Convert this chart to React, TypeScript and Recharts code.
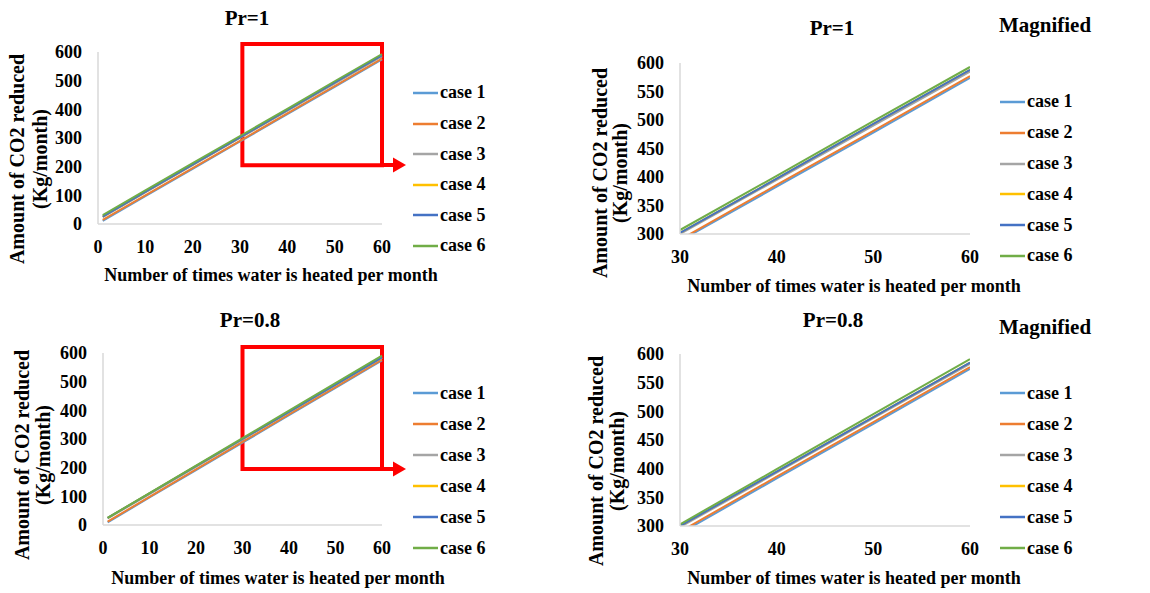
import React from 'react';
import { LineChart, Line, XAxis, YAxis, Legend, ReferenceArea } from 'recharts';

const xValues = [1, 10, 20, 30, 40, 50, 60];
const caseNames = ['case 1', 'case 2', 'case 3', 'case 4', 'case 5', 'case 6'];
const caseColors = ['#5B9BD5', '#ED7D31', '#A5A5A5', '#FFC000', '#4472C4', '#70AD47'];

// Pr = 1
const pr1Case1 = [11, 97, 192, 288, 383, 478, 574];
const pr1Case2 = [14, 100, 195, 290, 386, 481, 577];
const pr1Case3 = [24, 110, 205, 300, 395, 490, 585];
const pr1Case4 = [26, 112, 207, 302, 397, 493, 588];
const pr1Case5 = [26, 112, 207, 302, 397, 493, 588];
const pr1Case6 = [31, 117, 212, 307, 402, 498, 593];

// Pr = 0.8
const pr08Case1 = [9, 96, 191, 287, 383, 478, 574];
const pr08Case2 = [12, 98, 194, 290, 386, 481, 577];
const pr08Case3 = [23, 108, 203, 298, 393, 488, 583];
const pr08Case4 = [25, 110, 205, 300, 395, 490, 585];
const pr08Case5 = [25, 110, 205, 300, 395, 490, 585];
const pr08Case6 = [25, 111, 207, 303, 399, 495, 591];

const fullTicksX = [0, 10, 20, 30, 40, 50, 60];
const fullTicksY = [0, 100, 200, 300, 400, 500, 600];
const zoomTicksX = [30, 40, 50, 60];
const zoomTicksY = [300, 350, 400, 450, 500, 550, 600];

const xTitle = 'Number of times water is heated per month';
const yTitle1 = 'Amount of CO2 reduced';
const yTitle2 = '(Kg/month)';

const buildRows = (series: number[][]) =>
  xValues.map((x, i) => {
    const row: Record<string, number> = { x };
    series.forEach((s, k) => {
      row['c' + (k + 1)] = s[i];
    });
    return row;
  });

const pr1Rows = buildRows([pr1Case1, pr1Case2, pr1Case3, pr1Case4, pr1Case5, pr1Case6]);
const pr08Rows = buildRows([pr08Case1, pr08Case2, pr08Case3, pr08Case4, pr08Case5, pr08Case6]);

const FONT = '"Liberation Serif", "Times New Roman", serif';
const W = 575;
const H = 296;
const XH = 40;
const YW = 60;

const tickStyle = { fill: '#000', fontSize: 18, fontWeight: 'bold', fontFamily: FONT };

function makeLegend(step: number) {
  return (props: any) => (
    <div>
      {(props.payload || []).map((entry: any, i: number) => (
        <div key={i} style={{ display: 'flex', alignItems: 'center', height: step }}>
          <svg width={25} height={4} style={{ display: 'block' }}>
            <line x1={0} y1={2} x2={25} y2={2} stroke={entry.color} strokeWidth={2.5} />
          </svg>
          <span style={{ marginLeft: 2, fontFamily: FONT, fontWeight: 'bold', fontSize: 18, color: '#000', whiteSpace: 'nowrap' }}>
            {entry.value}
          </span>
        </div>
      ))}
    </div>
  );
}

interface PanelProps {
  ox: number;
  oy: number;
  rows: Record<string, number>[];
  plot: { l: number; r: number; t: number; b: number };
  xDomain: [number, number];
  xTicks: number[];
  yDomain: [number, number];
  yTicks: number[];
  zoomed: boolean;
  legend: { x: number; y0: number; step: number };
  title: { text: string; x: number; y: number };
  magnified?: { x: number; y: number };
  xLab: { x: number; y: number };
  yLab: { x1: number; x2: number; y: number };
  box?: { x1: number; x2: number; y1: number; y2: number; arrowY: number; arrowX0: number; arrowX1: number };
}

const textBase: React.CSSProperties = {
  position: 'absolute',
  fontFamily: FONT,
  fontWeight: 'bold',
  color: '#000',
  whiteSpace: 'nowrap',
  lineHeight: 1,
};

function Panel(p: PanelProps) {
  return (
    <div style={{ position: 'absolute', left: p.ox, top: p.oy, width: W, height: H }}>
      <LineChart
        width={W}
        height={H}
        data={p.rows}
        margin={{ top: p.plot.t, right: W - p.plot.r, bottom: H - p.plot.b - XH, left: p.plot.l - YW }}
      >
        <XAxis
          dataKey="x"
          type="number"
          domain={p.xDomain}
          ticks={p.xTicks}
          allowDataOverflow={p.zoomed}
          height={XH}
          tickLine={false}
          tickSize={0}
          tickMargin={16}
          axisLine={{ stroke: '#d9d9d9', strokeWidth: 1.5 }}
          tick={tickStyle}
        />
        <YAxis
          type="number"
          domain={p.yDomain}
          ticks={p.yTicks}
          allowDataOverflow={p.zoomed}
          width={YW}
          tickLine={false}
          tickSize={0}
          tickMargin={16}
          axisLine={{ stroke: '#d9d9d9', strokeWidth: 1.5 }}
          tick={tickStyle}
        />
        {caseNames.map((name, k) => (
          <Line
            key={name}
            type="linear"
            dataKey={'c' + (k + 1)}
            name={name}
            stroke={caseColors[k]}
            strokeWidth={2}
            dot={false}
            activeDot={false}
            isAnimationActive={false}
          />
        ))}
        {p.box && (
          <ReferenceArea
            x1={p.box.x1}
            x2={p.box.x2}
            y1={p.box.y1}
            y2={p.box.y2}
            ifOverflow="visible"
            fill="none"
            fillOpacity={0}
            stroke="#ff0000"
            strokeWidth={4}
          />
        )}
        <Legend
          layout="vertical"
          align="center"
          verticalAlign="middle"
          wrapperStyle={{ left: p.legend.x, top: p.legend.y0 - p.legend.step / 2, width: 110 }}
          content={makeLegend(p.legend.step)}
        />
      </LineChart>
      {p.box && (
        <svg width={W} height={H} style={{ position: 'absolute', left: 0, top: 0, pointerEvents: 'none' }}>
          <line x1={p.box.arrowX0} y1={p.box.arrowY} x2={p.box.arrowX1 - 10} y2={p.box.arrowY} stroke="#ff0000" strokeWidth={4} />
          <polygon
            points={`${p.box.arrowX1 - 13},${p.box.arrowY - 7.5} ${p.box.arrowX1},${p.box.arrowY} ${p.box.arrowX1 - 13},${p.box.arrowY + 7.5}`}
            fill="#ff0000"
          />
        </svg>
      )}
      <div style={{ ...textBase, left: p.title.x, top: p.title.y, fontSize: 21, transform: 'translate(-50%, -50%)' }}>
        {p.title.text}
      </div>
      {p.magnified && (
        <div style={{ ...textBase, left: p.magnified.x, top: p.magnified.y, fontSize: 21, transform: 'translate(-50%, -50%)' }}>
          Magnified
        </div>
      )}
      <div style={{ ...textBase, left: p.xLab.x, top: p.xLab.y, fontSize: 18, transform: 'translate(-50%, -50%)' }}>
        {xTitle}
      </div>
      <div style={{ ...textBase, left: p.yLab.x1, top: p.yLab.y, fontSize: 20, transform: 'translate(-50%, -50%) rotate(-90deg)' }}>
        {yTitle1}
      </div>
      <div style={{ ...textBase, left: p.yLab.x2, top: p.yLab.y, fontSize: 20, transform: 'translate(-50%, -50%) rotate(-90deg)' }}>
        {yTitle2}
      </div>
    </div>
  );
}

export default function App() {
  return (
    <div style={{ position: 'absolute', left: 0, top: 0, width: 1150, height: 593, background: '#fff', overflow: 'hidden' }}>
      <Panel
        ox={0}
        oy={0}
        rows={pr1Rows}
        plot={{ l: 98, r: 382, t: 52, b: 224 }}
        xDomain={[0, 60]}
        xTicks={fullTicksX}
        yDomain={[0, 600]}
        yTicks={fullTicksY}
        zoomed={false}
        legend={{ x: 413, y0: 93, step: 30.6 }}
        title={{ text: 'Pr=1', x: 247, y: 18 }}
        xLab={{ x: 271, y: 275 }}
        yLab={{ x1: 17, x2: 40, y: 159 }}
        box={{ x1: 30.5, x2: 60, y1: 205, y2: 628, arrowY: 165, arrowX0: 383, arrowX1: 406 }}
      />
      <Panel
        ox={575}
        oy={0}
        rows={pr1Rows}
        plot={{ l: 105, r: 395, t: 63, b: 234 }}
        xDomain={[30, 60]}
        xTicks={zoomTicksX}
        yDomain={[300, 600]}
        yTicks={zoomTicksY}
        zoomed={true}
        legend={{ x: 425, y0: 102, step: 30.8 }}
        title={{ text: 'Pr=1', x: 257, y: 28 }}
        magnified={{ x: 470, y: 25 }}
        xLab={{ x: 279, y: 286 }}
        yLab={{ x1: 25, x2: 45, y: 173 }}
      />
      <Panel
        ox={0}
        oy={296}
        rows={pr08Rows}
        plot={{ l: 103, r: 382, t: 57, b: 229 }}
        xDomain={[0, 60]}
        xTicks={fullTicksX}
        yDomain={[0, 600]}
        yTicks={fullTicksY}
        zoomed={false}
        legend={{ x: 413, y0: 97, step: 31 }}
        title={{ text: 'Pr=0.8', x: 250, y: 24 }}
        xLab={{ x: 278, y: 282 }}
        yLab={{ x1: 22, x2: 43, y: 159 }}
        box={{ x1: 30, x2: 60, y1: 195, y2: 621, arrowY: 173, arrowX0: 383, arrowX1: 406 }}
      />
      <Panel
        ox={575}
        oy={296}
        rows={pr08Rows}
        plot={{ l: 105, r: 395, t: 58, b: 230 }}
        xDomain={[30, 60]}
        xTicks={zoomTicksX}
        yDomain={[300, 600]}
        yTicks={zoomTicksY}
        zoomed={true}
        legend={{ x: 425, y0: 97, step: 31 }}
        title={{ text: 'Pr=0.8', x: 258, y: 24 }}
        magnified={{ x: 470, y: 31 }}
        xLab={{ x: 279, y: 282 }}
        yLab={{ x1: 21, x2: 42, y: 165 }}
      />
    </div>
  );
}
